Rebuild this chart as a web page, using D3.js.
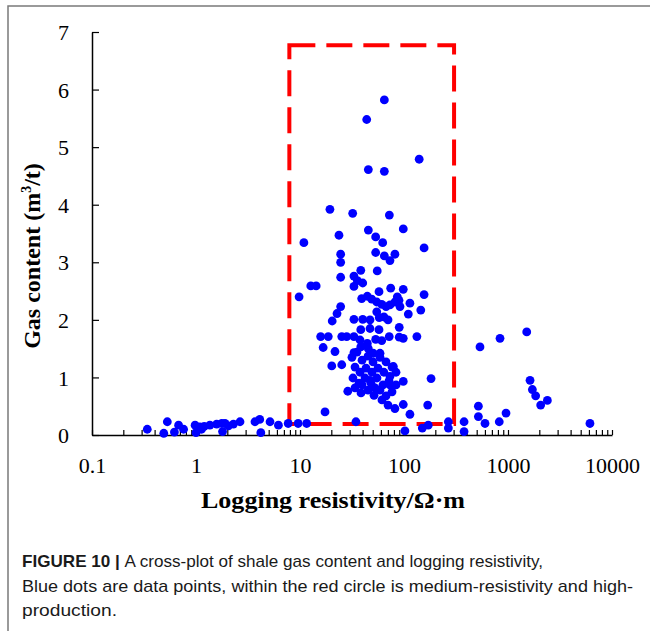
<!DOCTYPE html>
<html>
<head>
<meta charset="utf-8">
<script src="https://cdn.jsdelivr.net/npm/d3@7/dist/d3.min.js"></script>
<style>
  body { margin: 0; background: #fff; }
</style>
</head>
<body>
<div id="container"></div>
<script>
// resistivity (ohm·m) and gas content (m3/t)
const resistivity = [
  0.34, 0.53, 0.49, 0.62, 0.68, 0.76, 0.98, 1.0, 1.13, 1.36, 1.58, 1.77, 1.8, 2.05, 2.29, 2.65,
  3.69, 4.1, 4.2, 5.15, 6.2, 7.7, 9.6, 11.6, 1.2, 1.9, 1.09,
  64.7, 43.8, 140, 45.4, 64.7, 19.4, 32.1, 72.3, 98.4, 45.4, 23.7, 53.4, 10.9, 62.4, 156,
  24.6, 24.6, 53.4, 64.7, 81.8, 73.3, 38.4, 55.3, 24.6, 33.0, 35.6, 40.1, 33.0, 12.7, 14.3,
  9.8, 57.5, 74.5, 98.4, 156,
  39.2, 44.4, 48.9, 54.7, 61.1, 67.2, 73.3, 81.8, 86.2, 91.5, 89.5, 114, 110, 145,
  24.6, 22.7, 20.4,
  33.0, 40.1, 47.1, 54.7, 57.8, 64.1, 70.2,
  38.4, 47.1, 57.5, 90.0, 98.4, 15.8, 18.7, 25.2, 28.1, 33.0,
  37.8, 44.4, 53.4, 61.1, 72.1, 90.0, 133, 16.7, 21.7,
  33.0, 38.4, 45.4, 50.6, 58.8, 20.2, 25.2,
  31.6, 35.3, 39.5, 45.1, 50.4, 58.8, 67.2, 76.7, 33.8, 37.8, 43.1, 49.2, 56.2, 64.1, 73.3, 83.8,
  32.3, 36.9, 42.2, 48.2, 55.0, 62.8, 71.8, 83.8, 33.8, 38.6, 45.1, 51.5, 58.8, 67.2, 76.7,
  47.1, 39.5, 52.6, 61.4, 73.3, 79.0,
  28.8, 182, 98.4, 70.2, 81.8, 98.4, 169, 114, 17.4, 34.5, 102, 150, 171,
  267, 267, 378, 378, 519, 519, 538, 601, 824, 957, 838, 1514, 1629, 1715, 1845, 2061, 2390, 6140
];
const gasContent = [
  0.10, 0.23, 0.03, 0.05, 0.17, 0.10, 0.17, 0.04, 0.10, 0.17, 0.19, 0.20, 0.06, 0.16, 0.19, 0.23,
  0.23, 0.27, 0.04, 0.23, 0.17, 0.20, 0.20, 0.20, 0.15, 0.20, 0.14,
  5.82, 5.48, 4.79, 4.61, 4.58, 3.92, 3.85, 3.82, 3.58, 3.56, 3.47, 3.44, 3.34, 3.34, 3.25,
  3.14, 3.00, 3.17, 3.11, 3.14, 3.03, 2.86, 2.85, 2.74, 2.76, 2.68, 2.64, 2.58, 2.59, 2.59,
  2.40, 2.49, 2.55, 2.53, 2.44,
  2.37, 2.41, 2.36, 2.31, 2.27, 2.23, 2.26, 2.31, 2.40, 2.23, 2.34, 2.29, 2.10, 2.17,
  2.23, 2.11, 1.98,
  2.01, 2.01, 2.00, 2.14, 2.04, 2.05, 2.00,
  1.83, 1.85, 1.83, 1.87, 1.68, 1.71, 1.71, 1.71, 1.71, 1.71,
  1.65, 1.59, 1.66, 1.64, 1.71, 1.70, 1.71, 1.52, 1.45,
  1.43, 1.53, 1.50, 1.42, 1.42, 1.20, 1.22,
  1.35, 1.44, 1.30, 1.37, 1.27, 1.35, 1.27, 1.18, 1.18, 1.09, 1.16, 1.09, 1.16, 1.09, 1.02, 1.09,
  0.99, 0.90, 0.99, 0.90, 0.99, 0.87, 0.94, 0.87, 0.82, 0.73, 0.78, 0.69, 0.78, 0.68, 0.75,
  0.95, 0.87, 0.82, 0.61, 0.87, 1.19,
  0.76, 0.98, 0.93, 0.52, 0.46, 0.53, 0.52, 0.36, 0.40, 0.23, 0.07, 0.12, 0.17,
  0.23, 0.12, 0.23, 0.06, 0.50, 0.32, 1.53, 0.20, 0.23, 0.38, 1.68, 1.79, 0.95, 0.79, 0.68, 0.52, 0.60, 0.20
];
const xMajor = [0.1, 1, 10, 100, 1000, 10000];
const xLabels = ["0.1", "1", "10", "100", "1000", "10000"];
const yTicks = [0, 1, 2, 3, 4, 5, 6, 7];
// medium-resistivity / high-production window
const boxRes = [7.9, 303];
const boxGas = [0.19, 6.77];

const captionLines = [
  ["FIGURE 10 | ", "A cross-plot of shale gas content and logging resistivity,"],
  ["", "Blue dots are data points, within the red circle is medium-resistivity and high-"],
  ["", "production."]
];

let svg = d3.select("#container")
  .append("svg")
  .attr("width", 650)
  .attr("height", 631);

svg.append("rect")
  .attr("x", 8).attr("y", 6)
  .attr("width", 700).attr("height", 700)
  .attr("fill", "none")
  .attr("stroke", "#7a7a7a")
  .attr("stroke-width", 1.5);

let x = d3.scaleLog().domain([0.1, 10000]).range([92, 612]);
let y = d3.scaleLinear().domain([0, 7]).range([435, 32]);

// all log ticks: majors plus 2..9 in each decade
let xTicks = [];
xMajor.forEach(function(m, i) {
  xTicks.push(m);
  if (i < xMajor.length - 1) {
    for (let k = 2; k <= 9; k++) xTicks.push(+(m * k).toPrecision(3));
  }
});

let xAxis = svg.append("g")
  .attr("transform", "translate(0,435)")
  .call(d3.axisBottom(x)
    .tickValues(xTicks)
    .tickSize(-5)
    .tickSizeOuter(0)
    .tickPadding(22)
    .tickFormat(function(d) {
      let i = xMajor.indexOf(d);
      return i >= 0 ? xLabels[i] : "";
    }));

let yAxis = svg.append("g")
  .attr("transform", "translate(92,0)")
  .call(d3.axisLeft(y)
    .tickValues(yTicks)
    .tickSize(-7)
    .tickSizeOuter(0)
    .tickPadding(23)
    .tickFormat(d3.format("d")));

[xAxis, yAxis].forEach(function(a) {
  a.select(".domain").attr("stroke", "#000").attr("stroke-width", 1.5);
  a.selectAll(".tick line").attr("stroke", "#000").attr("stroke-width", 1.2);
  a.selectAll(".tick text")
    .attr("font-family", "'Liberation Serif', 'Times New Roman', serif")
    .attr("font-size", 22)
    .attr("fill", "#000");
});
yAxis.selectAll(".tick text").attr("dy", "0.35em");

// dashed window
svg.append("rect")
  .attr("x", x(boxRes[0]))
  .attr("y", y(boxGas[1]))
  .attr("width", x(boxRes[1]) - x(boxRes[0]))
  .attr("height", y(boxGas[0]) - y(boxGas[1]))
  .attr("fill", "none")
  .attr("stroke", "#ff0000")
  .attr("stroke-width", 4)
  .attr("stroke-dasharray", "26,11");

let points = resistivity.map(function(r, i) { return { r: r, g: gasContent[i] }; });

svg.selectAll(".dot").data(points).enter()
  .append("circle")
  .attr("class", "dot")
  .attr("cx", function(d) { return x(d.r); })
  .attr("cy", function(d) { return y(d.g); })
  .attr("r", 4.4)
  .attr("fill", "#0000ff");

svg.append("text")
  .text("Logging resistivity/Ω·m")
  .attr("x", 333)
  .attr("y", 508)
  .attr("text-anchor", "middle")
  .attr("font-family", "'Liberation Serif', 'Times New Roman', serif")
  .attr("font-weight", "bold")
  .attr("font-size", 24)
  .attr("textLength", 264)
  .attr("lengthAdjust", "spacingAndGlyphs");

let yTitle = svg.append("text")
  .attr("transform", "translate(40,256) rotate(-90)")
  .attr("text-anchor", "middle")
  .attr("font-family", "'Liberation Serif', 'Times New Roman', serif")
  .attr("font-weight", "bold")
  .attr("font-size", 24);
yTitle.append("tspan").text("Gas content (m");
yTitle.append("tspan").text("3").attr("font-size", 14).attr("dy", -9);
yTitle.append("tspan").text("/t)").attr("dy", 9);

let capWidths = [521, 611, 95];
captionLines.forEach(function(line, i) {
  let t = svg.append("text")
    .attr("x", 22)
    .attr("y", 567 + i * 24.5)
    .attr("font-family", "'Liberation Sans', Arial, sans-serif")
    .attr("font-size", 17)
    .attr("fill", "#1a1a1a")
    .attr("textLength", capWidths[i])
    .attr("lengthAdjust", "spacingAndGlyphs");
  if (line[0]) t.append("tspan").attr("font-weight", "bold").text(line[0]);
  t.append("tspan").text(line[1]);
});
</script>
</body>
</html>
